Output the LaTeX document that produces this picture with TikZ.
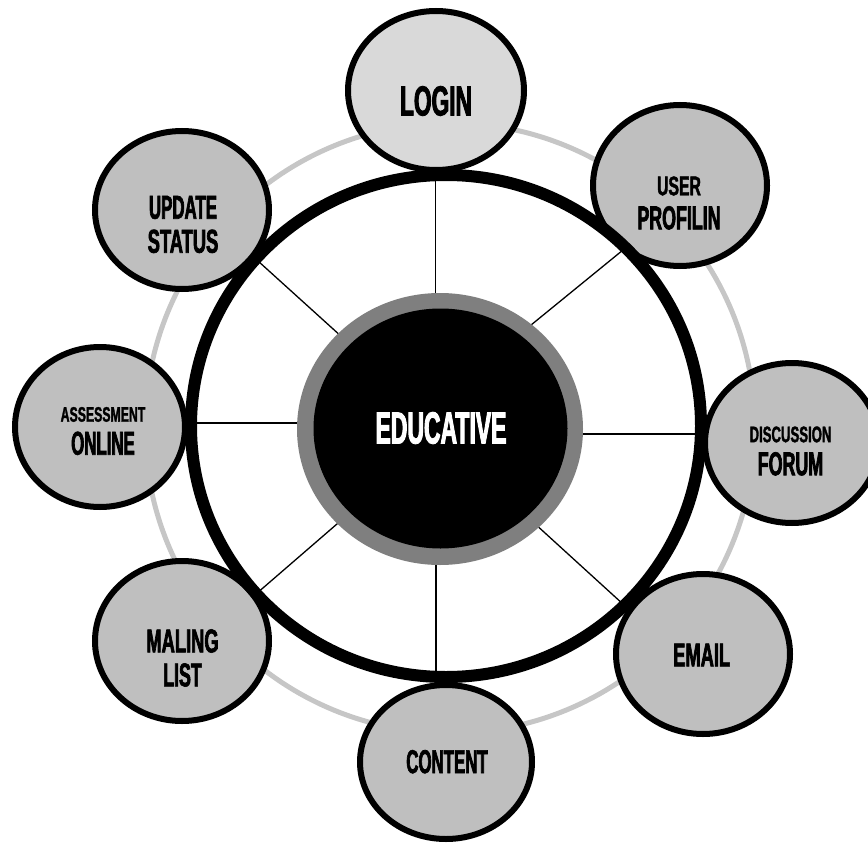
\documentclass[tikz,border=0pt]{standalone}
\usepackage{fontspec}
\setmainfont{Liberation Sans}
\newfontfamily\fA{Liberation Sans}[UprightFont={* Bold},FakeStretch=0.51,FakeBold=2]
\newfontfamily\fB{Liberation Sans}[UprightFont={* Bold},FakeStretch=0.54,FakeBold=2]
\newfontfamily\fC{Liberation Sans}[UprightFont={* Bold},FakeStretch=0.555,FakeBold=2]
\newfontfamily\fD{Liberation Sans}[UprightFont={* Bold},FakeStretch=0.585,FakeBold=1.5]
\usetikzlibrary{shapes.geometric}
\definecolor{ringgray}{RGB}{198,198,198}
\definecolor{bubble}{RGB}{191,191,191}
\definecolor{bubblelight}{RGB}{217,217,217}
\definecolor{midgray}{RGB}{127,127,127}
\newcommand{\fsz}[2]{\fontsize{#1}{#2}\selectfont}
\begin{document}
\begin{tikzpicture}[x=1pt,y=-1pt,
  bubblestyle/.style={ellipse, draw=black, line width=6pt, fill=bubble, inner sep=0pt},
  lbl/.style={align=center, inner sep=0pt, text=black},
  spoke/.style={draw=black, line width=1.3pt},
]
\useasboundingbox (0,0) rectangle (868,843);
% outer grey ring
\node[circle, draw=ringgray, line width=5pt, minimum size=610pt, inner sep=0pt] (ring) at (450,428) {};
% bubbles
\node[bubblestyle, fill=bubblelight, minimum width=176pt, minimum height=159pt] (login) at (436,90.5) {};
\node[bubblestyle, minimum width=174pt, minimum height=161pt] (user) at (680,185.5) {};
\node[bubblestyle, minimum width=174pt, minimum height=160pt] (disc) at (792,443) {};
\node[bubblestyle, minimum width=174pt, minimum height=160pt] (email) at (703,654) {};
\node[bubblestyle, minimum width=172pt, minimum height=154pt] (content) at (446,762) {};
\node[bubblestyle, minimum width=174pt, minimum height=160pt] (maling) at (182,641) {};
\node[bubblestyle, minimum width=170pt, minimum height=160pt] (assess) at (100,427) {};
\node[bubblestyle, minimum width=174pt, minimum height=158pt] (update) at (182,210) {};
% spokes
\coordinate (s1a) at (435.5,300); \coordinate (s1b) at (435.5,176);
\coordinate (s2a) at (520,334);   \coordinate (s2b) at (623,250);
\coordinate (s3a) at (578,434);   \coordinate (s3b) at (700,434);
\coordinate (s4a) at (522,512);   \coordinate (s4b) at (624,605);
\coordinate (s5a) at (436,560);   \coordinate (s5b) at (436,675);
\coordinate (s6a) at (352,511);   \coordinate (s6b) at (256,594);
\coordinate (s7a) at (305,423);   \coordinate (s7b) at (191,423);
\coordinate (s8a) at (353,347);   \coordinate (s8b) at (258,261);
\foreach \i in {1,...,8} {\draw[spoke] (s\i a) -- (s\i b);}
% big circle
\node[ellipse, draw=black, line width=12pt, minimum width=510pt, minimum height=502pt, inner sep=0pt] (big) at (446,426) {};
% hub
\node[ellipse, fill=midgray, minimum width=286pt, minimum height=272pt, inner sep=0pt] (hub) at (440,429) {};
\node[ellipse, fill=black, minimum width=254pt, minimum height=240pt, inner sep=0pt] (core) at (440.5,428.5) {};
\node[lbl, text=white, font={\fA\fsz{45}{45}}] (tedu) at (441,428) {EDUCATIVE};
% labels
\node[lbl, font={\fB\fsz{42}{42}}] (tlogin) at (436,101) {LOGIN};
\node[lbl, font={\fB\fsz{33}{34}}] (tuser) at (679,203) {{\fD\fsz{27}{34}USER}\\PROFILIN};
\node[lbl, font={\fB\fsz{33}{33}}] (tdisc) at (790.5,451) {{\fD\fsz{22.5}{33}DISCUSSION}\\FORUM};
\node[lbl, font={\fC\fsz{33}{33}}] (temail) at (701.7,655) {EMAIL};
\node[lbl, font={\fA\fsz{33}{33}}] (tcontent) at (447,761.7) {CONTENT};
\node[lbl, font={\fB\fsz{33}{34}}] (tmaling) at (182.5,658) {{\fC MALING}\\LIST};
\node[lbl, font={\fA\fsz{33}{33}}] (tassess) at (103,431) {{\fD\fsz{21}{33}ASSESSMENT}\\ONLINE};
\node[lbl, font={\fC\fsz{33}{34}}] (tupdate) at (183,224.5) {{\fA UPDATE}\\STATUS};
\end{tikzpicture}
\end{document}
